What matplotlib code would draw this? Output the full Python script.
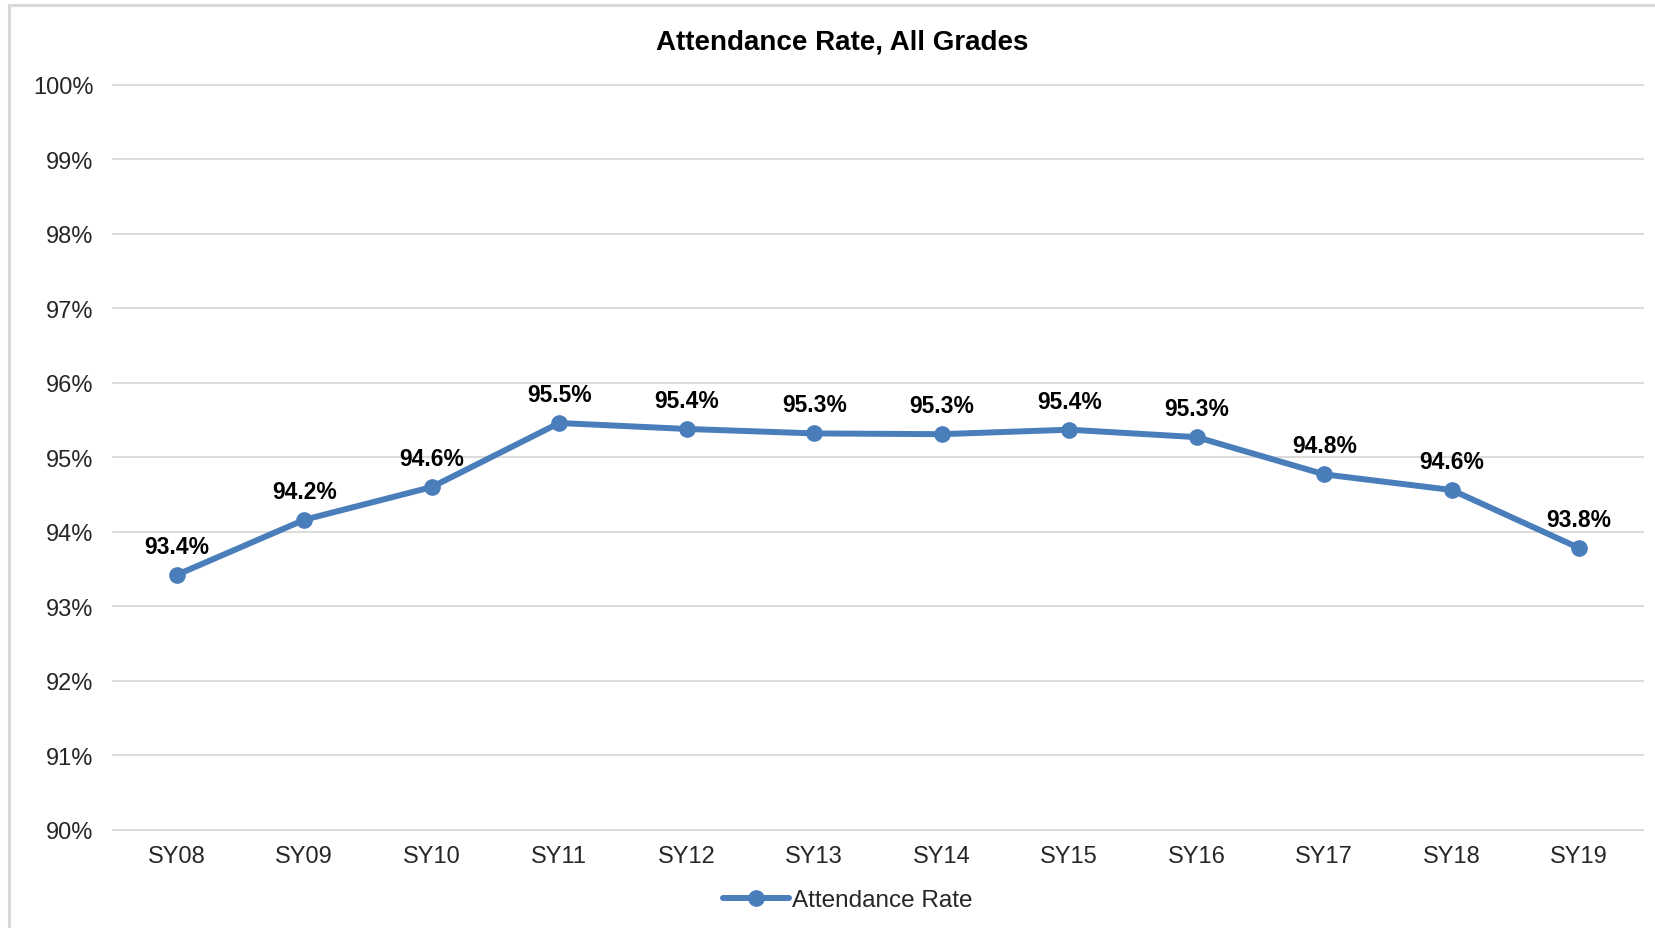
import matplotlib
matplotlib.use("Agg")
import matplotlib.pyplot as plt
from matplotlib.patches import Rectangle
from matplotlib.ticker import FuncFormatter

categories = ["SY08", "SY09", "SY10", "SY11", "SY12", "SY13", "SY14", "SY15", "SY16", "SY17", "SY18", "SY19"]
attendance = [93.42, 94.16, 94.60, 95.46, 95.38, 95.32, 95.31, 95.37, 95.27, 94.77, 94.56, 93.78]
y_ticks = [90, 91, 92, 93, 94, 95, 96, 97, 98, 99, 100]

plt.rcParams['font.family'] = ['Liberation Sans', 'DejaVu Sans']

W, H = 1655, 929
fig = plt.figure(figsize=(W / 100, H / 100), dpi=100)
ax = fig.add_axes([113 / W, 1 - 830.5 / H, (1643 - 113) / W, (830.5 - 86) / H])

blue = "#4a7ebb"
x = list(range(len(categories)))
ax.plot(x, attendance, color=blue, lw=4.3, marker="o", markersize=11,
        solid_capstyle="round", label="Attendance Rate", zorder=3)

for xi, v in zip(x, attendance):
    ax.annotate(f"{v:.1f}%", (xi, v), xytext=(0, 20.5), textcoords="offset points",
                ha="center", va="center", fontsize=16.5, fontweight="bold", color="black")

ax.set_xlim(-0.5, len(categories) - 0.5)
ax.set_ylim(90, 100)
ax.set_yticks(y_ticks)
ax.yaxis.set_major_formatter(FuncFormatter(lambda v, p: f"{v:.0f}%"))
ax.set_xticks(x)
ax.set_xticklabels(categories)
ax.tick_params(axis="both", length=0, labelsize=17, colors="#262626")
ax.tick_params(axis="y", pad=14)
ax.tick_params(axis="x", pad=11)
ax.grid(axis="y", color="#d9d9d9", lw=1.3)
for gl in ax.get_ygridlines():
    gl.set_clip_on(False)
ax.set_axisbelow(True)
for s in ax.spines.values():
    s.set_visible(False)

fig.text(842 / W, 1 - 43 / H, "Attendance Rate, All Grades", ha="center", va="center",
         fontsize=20, fontweight="bold", color="black")

fig.legend(loc="center", bbox_to_anchor=(848 / W, 1 - 901 / H), frameon=False,
           fontsize=17.5, handlelength=2.7, handletextpad=0.15, labelcolor="#262626")

# chart area border (top and left visible)
fig.patches.append(Rectangle((9 / W, -0.1), 1.2, 1 - 6 / H + 0.1, transform=fig.transFigure,
                             fill=False, edgecolor="#d9d9d9", lw=2.2))

fig.savefig("out.png", dpi=100, facecolor="white")
